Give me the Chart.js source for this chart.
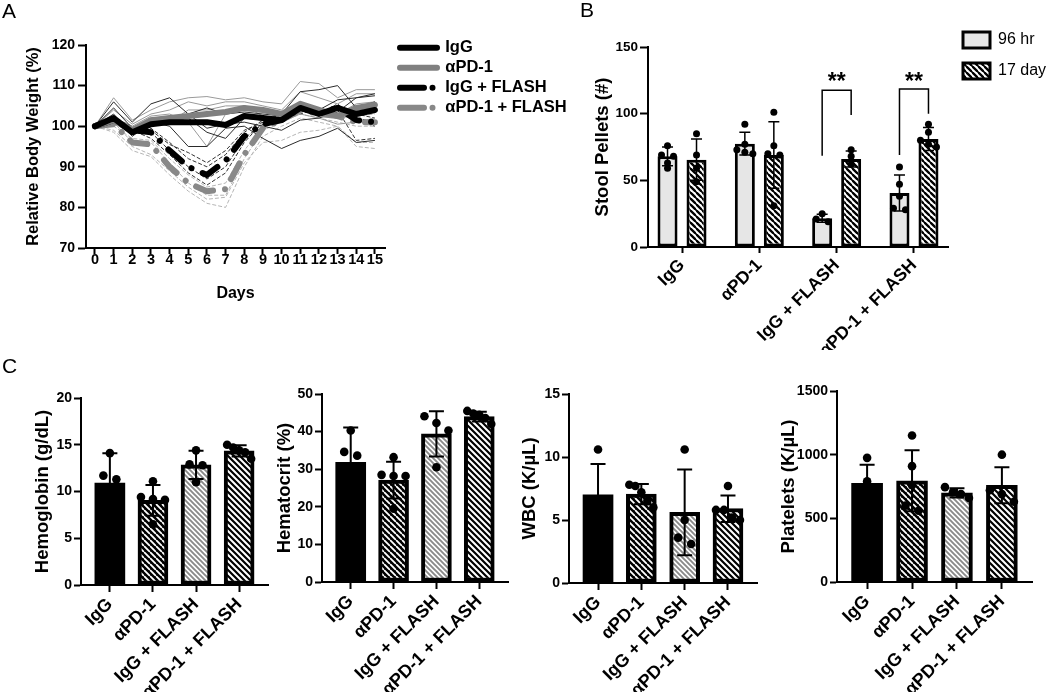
<!DOCTYPE html>
<html><head><meta charset="utf-8">
<script src="https://cdn.jsdelivr.net/npm/chart.js@4.4.1/dist/chart.umd.min.js"></script>
<style>
html,body{margin:0;padding:0;background:#fff;}
body{width:1050px;height:692px;position:relative;overflow:hidden;font-family:"Liberation Sans",Arial,sans-serif;}
canvas{position:absolute;}
.lbl{position:absolute;font-size:21px;color:#000;line-height:1;}
</style></head><body>
<canvas id="cA" width="575" height="320" style="left:0;top:0"></canvas>
<canvas id="cB" width="480" height="350" style="left:570px;top:0"></canvas>
<canvas id="cC1" width="270" height="362" style="left:0;top:330px"></canvas>
<canvas id="cC2" width="240" height="362" style="left:270px;top:330px"></canvas>
<canvas id="cC3" width="245" height="362" style="left:515px;top:330px"></canvas>
<canvas id="cC4" width="275" height="362" style="left:775px;top:330px"></canvas>
<div class="lbl" style="left:2px;top:0px">A</div>
<div class="lbl" style="left:580px;top:-1px">B</div>
<div class="lbl" style="left:2px;top:355px">C</div>
<script>
// ---------------- DATA ----------------
const groups = ['IgG', 'αPD-1', 'IgG + FLASH', 'αPD-1 + FLASH'];
const days = [0,1,2,3,4,5,6,7,8,9,10,11,12,13,14,15];
const weightTicks = [70, 80, 90, 100, 110, 120];

// Panel A - group means (relative body weight, %)
const igMean    = [100, 102, 98.5, 100.5, 101, 101, 101, 100.3, 102.5, 102, 101.5, 104.5, 103, 104.5, 103, 104];
const pdMean    = [100, 101.5, 99, 101.5, 102, 102.5, 103, 103.5, 104.5, 104, 103, 105.5, 104, 102.5, 104.5, 105.3];
const igfMean   = [100, 101.5, 99, 98.5, 94, 90, 88, 91.5, 97.5, 100.5, 101.5, 104.5, 103.5, 104.5, 101.5, 101];
const pdfMean   = [100, 100.5, 96, 95.5, 90, 86, 84, 84.5, 93, 99.5, 101.5, 104, 103, 102.5, 101, 101];
// Panel A - individual mice
const igMice = [
  [100, 106, 101, 105.5, 107, 103, 99.5, 100.5, 101, 100, 99, 101.5, 102, 103.5, 107, 108],
  [100, 103, 97.5, 101, 100, 95, 95, 99.5, 100, 97, 94.5, 96.5, 97.5, 99.5, 96, 96.5],
  [100, 104.5, 99.5, 102, 101.5, 102, 98.5, 97, 102, 101.5, 103, 108.5, 109, 110, 104.5, 106],
  [100, 102, 98, 100, 101, 103, 104.5, 103, 103.5, 103, 102.5, 104, 104, 106.5, 107, 107.5]
];
const pdMice = [
  [100, 107, 101.5, 104, 106, 107, 107.3, 106.5, 107, 106, 105.5, 111, 110.5, 107, 109, 109],
  [100, 104, 100.5, 103, 104, 106, 105, 106, 106, 105, 104, 108.5, 107, 105.5, 108, 108],
  [100, 102, 100, 102.5, 103, 101, 95, 103, 105, 104, 102, 105, 104, 103, 105.5, 106],
  [100, 101, 98.5, 100, 101, 104, 104, 105, 105, 102.5, 101, 103, 102, 100.5, 101, 102]
];
const igfMice = [
  [100, 101, 98, 99, 95.5, 93.5, 91, 94, 99, 101, 102, 104, 103, 105.5, 101.5, 100],
  [100, 102, 100, 98.5, 94, 90, 87, 90, 97, 100.5, 101, 105, 104, 104, 103, 102],
  [100, 100.5, 99, 97, 93, 88.5, 85.5, 88.5, 96, 101, 103, 104, 103, 104, 96.5, 97],
  [100, 101.5, 98.5, 99.5, 96, 92, 90, 93, 98.5, 101.5, 102, 103, 104.5, 103, 102, 101]
];
const pdfMice = [
  [100, 98.5, 94, 92.5, 88, 84, 81, 80, 90, 97.5, 100, 102, 101, 100, 95, 94.5],
  [100, 101, 96, 96, 91, 86, 83, 83, 92, 99, 101, 103, 102, 101, 100, 100],
  [100, 100, 97, 96.5, 92, 88, 85, 86, 94, 100, 102, 104, 103, 102, 102.5, 103],
  [100, 99, 95, 93, 89, 85, 82, 82.5, 91, 96, 96.5, 98.5, 99, 100, 96, 96]
];

// Panel B - stool pellets
const stool96Mean = [68, 77.5, 21.5, 40.5];
const stool96SD   = [7, 8.5, 3, 13.5];
const stool96Pts  = [[76, 69, 68, 63, 59], [92, 77, 73, 71, 70], [25, 21, 19], [60, 47, 38, 29, 28]];
const stool17Mean = [65.5, 69, 66, 81];
const stool17SD   = [15.5, 25, 6, 8.7];
const stool17Pts  = [[85, 69, 59, 49], [101, 76, 70, 69, 31], [73, 68, 62], [92, 86, 80, 77, 75]];
const sigGroup    = [2, 3];
const sigTop      = [117.5, 118.5];
const sigLeftEnd  = [68.5, 69];
const sigRightEnd = [99, 100];
const sigText     = ['**', '**'];
const sigTextVal  = [127, 127];

// Panel C - blood counts
const hgbMean = [10.9, 9.05, 12.85, 14.35];
const hgbSD   = [3.2, 1.65, 1.5, 0.6];
const hgbPts  = [[14.1, 11.7, 11.3, 6.5], [11.1, 9.4, 9.2, 9.1, 6.5], [14.4, 12.9, 12.8, 11.0], [15.0, 14.7, 14.4, 14.2, 13.5]];
const hctMean = [31.8, 27.1, 39.4, 44.0];
const hctSD   = [9.3, 4.9, 6.0, 1.3];
const hctPts  = [[40.3, 34.6, 33.6, 18.8], [33.2, 28.5, 28.2, 28.2, 19.5], [44.1, 42.3, 40.3, 30.5], [45.5, 44.8, 44.5, 43.6, 42.0]];
const wbcMean = [7.0, 7.05, 5.6, 5.9];
const wbcSD   = [2.45, 0.8, 3.4, 1.05];
const wbcPts  = [[10.6, 6.6, 5.6, 5.2], [7.8, 7.7, 7.2, 6.5, 6.0], [10.6, 5.0, 3.6, 3.1], [7.7, 5.8, 5.8, 5.2, 5.0]];
const pltMean = [774, 795, 700, 760];
const pltSD   = [146, 240, 37, 142];
const pltPts  = [[975, 790, 700, 630], [1150, 910, 760, 600, 560], [745, 705, 690, 660], [1000, 720, 690, 630]];

// ---------------- STYLE / HELPERS ----------------
const FAM = '"Liberation Sans", Arial, Helvetica, sans-serif';
Chart.defaults.font.family = FAM;
Chart.defaults.color = '#000';
Chart.defaults.animation = false;
Chart.defaults.events = [];
Chart.defaults.plugins.tooltip.enabled = false;

const F = (size, weight) => ({size: size, weight: weight || 'bold', family: FAM});
const gridStyle = (len) => ({display: true, drawOnChartArea: false, drawTicks: true, tickLength: len, tickColor: '#000', tickWidth: 2, color: '#000', offset: false});
const borderStyle = {display: true, color: '#000', width: 2};
const plain = (v) => String(v);
const blank = (pos, size) => ({
  type: 'linear', position: pos, display: true,
  grid: {display: false}, border: {display: false}, ticks: {display: false},
  afterFit(s) { if (pos === 'top' || pos === 'bottom') s.height = size; else s.width = size; }
});

function hatch(bg, fg, p, w) {
  const c = document.createElement('canvas');
  c.width = p; c.height = p;
  const g = c.getContext('2d');
  g.fillStyle = bg; g.fillRect(0, 0, p, p);
  g.strokeStyle = fg; g.lineWidth = w; g.lineCap = 'square';
  g.beginPath();
  g.moveTo(-1, -1); g.lineTo(p + 1, p + 1);
  g.moveTo(p - 2, -2); g.lineTo(p + 2, 2);
  g.moveTo(-2, p - 2); g.lineTo(2, p + 2);
  g.stroke();
  return document.createElement('canvas').getContext('2d').createPattern(c, 'repeat');
}

// beeswarm-like horizontal spread (pixel space)
function swarm(ys, step, thresh, maxSpread) {
  const idx = ys.map((y, i) => i).sort((a, b) => ys[a] - ys[b]);
  const off = new Array(ys.length).fill(0);
  let cluster = [];
  const flush = () => {
    const n = cluster.length;
    const st = n > 1 ? Math.min(step, maxSpread / (n - 1)) : 0;
    cluster.forEach((k, j) => { off[k] = (j - (n - 1) / 2) * st; });
    cluster = [];
  };
  idx.forEach((k, j) => {
    if (j > 0 && ys[k] - ys[idx[j - 1]] >= thresh) flush();
    cluster.push(k);
  });
  flush();
  return off;
}

const barExtras = {
  id: 'barExtras',
  afterDatasetsDraw(chart, args, o) {
    const ctx = chart.ctx, yS = chart.scales.y;
    ctx.save();
    ctx.strokeStyle = '#000'; ctx.lineWidth = o.errW; ctx.lineCap = 'butt';
    chart.data.datasets.forEach((ds, di) => {
      if (!ds.sd) return;
      chart.getDatasetMeta(di).data.forEach((bar, i) => {
        const m = ds.data[i].y;
        const t = yS.getPixelForValue(m + ds.sd[i]);
        const b = yS.getPixelForValue(m - ds.sd[i]);
        const x = bar.x, h = o.cap / 2;
        ctx.beginPath();
        ctx.moveTo(x, t); ctx.lineTo(x, b);
        ctx.moveTo(x - h, t); ctx.lineTo(x + h, t);
        ctx.moveTo(x - h, b); ctx.lineTo(x + h, b);
        ctx.stroke();
      });
    });
    ctx.fillStyle = '#000';
    chart.data.datasets.forEach((ds, di) => {
      if (!ds.pts) return;
      chart.getDatasetMeta(di).data.forEach((bar, i) => {
        const ys = ds.pts[i].map(v => yS.getPixelForValue(v));
        const off = swarm(ys, o.step, o.thresh, o.spread);
        ys.forEach((y, k) => {
          ctx.beginPath(); ctx.arc(bar.x + off[k], y, o.r, 0, Math.PI * 2); ctx.fill();
        });
      });
    });
    ctx.restore();
  }
};

const sigPlugin = {
  id: 'sig',
  afterDatasetsDraw(chart) {
    const ctx = chart.ctx, yS = chart.scales.y;
    ctx.save();
    ctx.strokeStyle = '#000'; ctx.lineWidth = 1.5; ctx.fillStyle = '#000';
    ctx.font = 'bold 23px ' + FAM; ctx.textAlign = 'center'; ctx.textBaseline = 'alphabetic';
    sigGroup.forEach((g, k) => {
      const x0 = chart.getDatasetMeta(0).data[g].x;
      const x1 = chart.getDatasetMeta(1).data[g].x;
      const yt = yS.getPixelForValue(sigTop[k]);
      ctx.beginPath();
      ctx.moveTo(x0, yS.getPixelForValue(sigLeftEnd[k]));
      ctx.lineTo(x0, yt); ctx.lineTo(x1, yt);
      ctx.lineTo(x1, yS.getPixelForValue(sigRightEnd[k]));
      ctx.stroke();
      ctx.fillText(sigText[k], (x0 + x1) / 2, yS.getPixelForValue(sigTextVal[k]) + 0.49 * 23);
    });
    ctx.restore();
  }
};

const toXY = (arr) => arr.map((v, i) => ({x: i, y: v}));

// ---------------- PANEL A ----------------
const meanDash = [18, 12, 0.01, 12];
const legendDash = [[], [], [24, 8.5, 0.01, 60], [24, 8.5, 0.01, 60]];
function meanDs(label, data, color, dash) {
  return {label, data, borderColor: color, backgroundColor: color, borderWidth: 6, borderDash: dash,
          borderCapStyle: 'round', borderJoinStyle: 'round', pointRadius: 0, tension: 0, order: 0};
}
function thinDs(label, data, color, dash) {
  return {label, data, borderColor: color, borderWidth: 1, borderDash: dash, pointRadius: 0, tension: 0, order: 1};
}
const aSets = [
  meanDs('IgG', igMean, '#000', []),
  meanDs('αPD-1', pdMean, '#808080', []),
  meanDs('IgG + FLASH', igfMean, '#000', meanDash),
  meanDs('αPD-1 + FLASH', pdfMean, '#888888', meanDash)
];
igMice.forEach((d, i) => aSets.push(thinDs('IgG mouse ' + (i + 1), d, '#2a2a2a', [])));
pdMice.forEach((d, i) => aSets.push(thinDs('αPD-1 mouse ' + (i + 1), d, '#9a9a9a', [])));
igfMice.forEach((d, i) => aSets.push(thinDs('IgG + FLASH mouse ' + (i + 1), d, '#333333', [4, 2])));
pdfMice.forEach((d, i) => aSets.push(thinDs('αPD-1 + FLASH mouse ' + (i + 1), d, '#b5b5b5', [4, 2])));

new Chart(document.getElementById('cA'), {
  type: 'line',
  data: {labels: days, datasets: aSets},
  options: {
    responsive: false,
    layout: {padding: {top: 36, left: 0, right: 0, bottom: 0}},
    plugins: {
      legend: {
        position: 'right', align: 'start', maxWidth: 178.5,
        labels: {
          usePointStyle: true, pointStyleWidth: 37, padding: 3.5, font: F(16.5), color: '#000',
          generateLabels(chart) {
            return chart.data.datasets.slice(0, 4).map((ds, i) => ({
              text: ds.label, fillStyle: ds.borderColor, strokeStyle: ds.borderColor, lineWidth: 6,
              lineCap: 'round', lineDash: legendDash[i], pointStyle: 'line', hidden: false,
              datasetIndex: i, fontColor: '#000'
            }));
          }
        }
      }
    },
    scales: {
      x: {
        type: 'linear', min: days[0] - 0.48, max: days[days.length - 1] + 0.54, offset: false,
        ticks: {stepSize: 1, includeBounds: false, autoSkip: false, maxRotation: 0, font: F(14.5), padding: -3, color: '#000'},
        grid: gridStyle(6), border: borderStyle,
        title: {display: true, text: 'Days', font: F(16), color: '#000', padding: {top: 0, bottom: 17}},
        afterFit(s) { s.height = 72; }
      },
      y: {
        min: weightTicks[0], max: weightTicks[weightTicks.length - 1],
        ticks: {stepSize: 10, font: F(14), padding: 3, color: '#000'},
        grid: gridStyle(8), border: borderStyle,
        title: {display: true, text: 'Relative Body Weight (%)', font: F(16.5), color: '#000', padding: {top: 24, bottom: 0}},
        afterFit(s) { s.width = 86; }
      },
      xTop: blank('top', 9),
      yRight: blank('right', 11.5)
    }
  }
});

// ---------------- PANEL B ----------------
new Chart(document.getElementById('cB'), {
  type: 'bar',
  data: {datasets: [
    {label: '96 hr', data: toXY(stool96Mean), sd: stool96SD, pts: stool96Pts,
     backgroundColor: '#e6e6e6', borderColor: '#000', borderWidth: 3, borderSkipped: false,
     categoryPercentage: 0.75, barPercentage: 0.69},
    {label: '17 day', data: toXY(stool17Mean), sd: stool17SD, pts: stool17Pts,
     backgroundColor: hatch('#ffffff', '#000000', 6.5, 2.3), borderColor: '#000', borderWidth: 3, borderSkipped: false,
     categoryPercentage: 0.75, barPercentage: 0.69}
  ]},
  options: {
    responsive: false,
    layout: {padding: {top: 17, right: 2, left: 0, bottom: 0}},
    plugins: {
      legend: {position: 'right', align: 'start', maxWidth: 100,
               labels: {boxWidth: 27, boxHeight: 16, padding: 15, font: F(16, 'normal'), color: '#000'}},
      barExtras: {cap: 11, errW: 1.5, r: 3.5, step: 12, thresh: 5, spread: 16}
    },
    scales: {
      x: {
        type: 'linear', min: -0.44, max: groups.length - 1 + 0.44, offset: false,
        ticks: {stepSize: 1, includeBounds: false, autoSkip: false, minRotation: 45, maxRotation: 45,
                callback: (v) => groups[v], font: F(17.5), padding: 2, color: '#000'},
        grid: gridStyle(6), border: borderStyle,
        afterFit(s) { s.height = 103; }
      },
      y: {
        min: 0, max: 150,
        ticks: {stepSize: 50, font: F(13.5), padding: 2, color: '#000', callback: plain},
        grid: gridStyle(8), border: borderStyle,
        title: {display: true, text: 'Stool Pellets (#)', font: F(18.5), color: '#000', padding: {top: 22, bottom: 0}},
        afterFit(s) { s.width = 78; }
      },
      xTop: blank('top', 30)
    }
  },
  plugins: [barExtras, sigPlugin]
});

// ---------------- PANEL C ----------------
const cFills = [
  '#000000',
  hatch('#000000', '#ffffff', 6.5, 1.8),
  hatch('#ffffff', '#8a8a8a', 5, 1.9),
  hatch('#ffffff', '#000000', 6, 2.2)
];
function panelC(id, title, mean, sd, pts, yMax, yStep, L) {
  new Chart(document.getElementById(id), {
    type: 'bar',
    data: {datasets: [{
      label: title, data: toXY(mean), sd: sd, pts: pts,
      backgroundColor: cFills, borderColor: '#000', borderWidth: [0, 4, 4, 4], borderSkipped: false,
      barThickness: L.bw
    }]},
    options: {
      responsive: false,
      layout: {padding: {top: L.top, right: L.right, left: 0, bottom: 0}},
      plugins: {legend: {display: false}, barExtras: {cap: 15, errW: 2, r: 4.3, step: 13, thresh: 9, spread: 24}},
      scales: {
        x: {
          type: 'linear', min: -0.67, max: groups.length - 1 + 0.67, offset: false,
          ticks: {stepSize: 1, includeBounds: false, autoSkip: false, minRotation: 45, maxRotation: 45,
                  callback: (v) => groups[v], font: F(18), padding: 2, color: '#000'},
          grid: gridStyle(7), border: borderStyle,
          afterFit(s) { s.height = L.xh; }
        },
        y: {
          min: 0, max: yMax,
          ticks: {stepSize: yStep, font: F(14), padding: 2, color: '#000', callback: plain},
          grid: gridStyle(7), border: borderStyle,
          title: {display: true, text: title, font: F(18.5), color: '#000', padding: {top: L.tp, bottom: 0}},
          afterFit(s) { s.width = L.yw; }
        }
      }
    },
    plugins: [barExtras]
  });
}
panelC('cC1', 'Hemoglobin (g/dL)', hgbMean, hgbSD, hgbPts, 20, 5, {top: 68, right: 2, xh: 107, yw: 81, tp: 32, bw: 30});
panelC('cC2', 'Hematocrit (%)', hctMean, hctSD, hctPts, 50, 10, {top: 64, right: 2, xh: 110, yw: 52, tp: 4, bw: 30});
panelC('cC3', 'WBC (K/µL)', wbcMean, wbcSD, wbcPts, 15, 5, {top: 64, right: 3, xh: 109, yw: 54, tp: 4, bw: 30});
panelC('cC4', 'Platelets (K/µL)', pltMean, pltSD, pltPts, 1500, 500, {top: 61, right: 18, xh: 110, yw: 62, tp: 3, bw: 31});
</script>
</body></html>
